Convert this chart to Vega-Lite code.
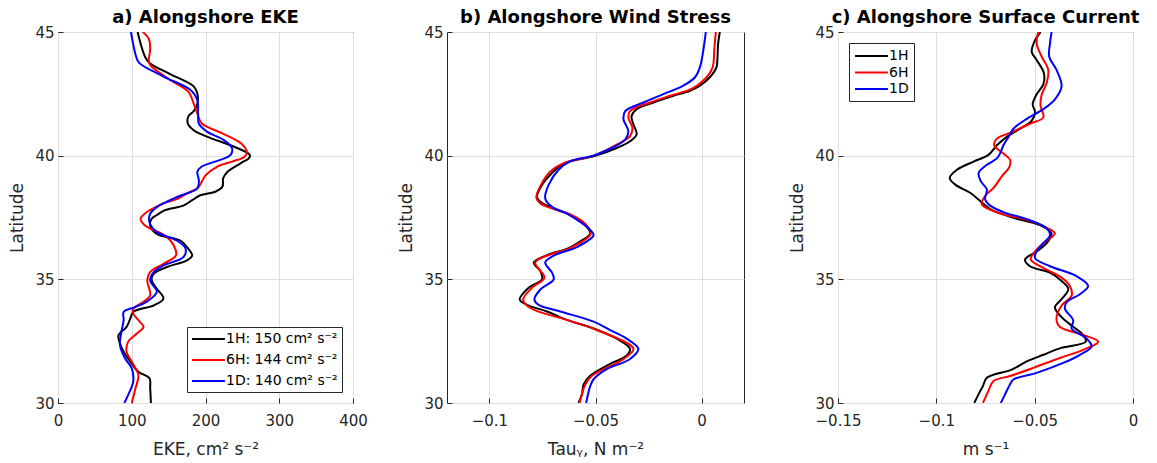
{
  "$schema": "https://vega.github.io/schema/vega-lite/v6.json",
  "padding": {"left": 8, "top": 8, "right": 5, "bottom": 5},
  "spacing": 94,
  "bounds": "flush",
  "datasets": {
    "a": [
      {"run":"1H","lat":45,"value":108},{"run":"1H","lat":44.53,"value":112},{"run":"1H","lat":44.0,"value":118},{"run":"1H","lat":43.75,"value":124},{"run":"1H","lat":43.3,"value":152},{"run":"1H","lat":42.8,"value":184},{"run":"1H","lat":42.5,"value":189},{"run":"1H","lat":42.1,"value":189},{"run":"1H","lat":41.8,"value":184},{"run":"1H","lat":41.6,"value":177},{"run":"1H","lat":41.3,"value":176},{"run":"1H","lat":41.03,"value":184},{"run":"1H","lat":40.77,"value":202},{"run":"1H","lat":40.36,"value":239},{"run":"1H","lat":40.03,"value":260},{"run":"1H","lat":39.9,"value":259},{"run":"1H","lat":39.7,"value":248},{"run":"1H","lat":39.35,"value":230},{"run":"1H","lat":39.09,"value":224},{"run":"1H","lat":38.75,"value":223},{"run":"1H","lat":38.55,"value":214},{"run":"1H","lat":38.4,"value":193},{"run":"1H","lat":38.2,"value":182},{"run":"1H","lat":37.98,"value":170},{"run":"1H","lat":37.8,"value":145},{"run":"1H","lat":37.6,"value":134},{"run":"1H","lat":37.45,"value":127},{"run":"1H","lat":37.18,"value":125},{"run":"1H","lat":36.84,"value":134},{"run":"1H","lat":36.57,"value":166},{"run":"1H","lat":36.3,"value":175},{"run":"1H","lat":35.97,"value":182},{"run":"1H","lat":35.77,"value":175},{"run":"1H","lat":35.5,"value":148},{"run":"1H","lat":35.23,"value":130},{"run":"1H","lat":34.96,"value":127},{"run":"1H","lat":34.62,"value":134},{"run":"1H","lat":34.22,"value":143},{"run":"1H","lat":33.95,"value":130},{"run":"1H","lat":33.68,"value":102},{"run":"1H","lat":33.41,"value":98},{"run":"1H","lat":33.08,"value":93},{"run":"1H","lat":32.74,"value":82},{"run":"1H","lat":32.41,"value":84},{"run":"1H","lat":32.07,"value":89},{"run":"1H","lat":31.67,"value":98},{"run":"1H","lat":31.26,"value":109},{"run":"1H","lat":31.0,"value":124},{"run":"1H","lat":30.59,"value":125},{"run":"1H","lat":30.0,"value":126},
      {"run":"6H","lat":45,"value":115},{"run":"6H","lat":44.73,"value":123},{"run":"6H","lat":44.3,"value":125},{"run":"6H","lat":43.86,"value":123},{"run":"6H","lat":43.66,"value":125},{"run":"6H","lat":43.1,"value":150},{"run":"6H","lat":42.58,"value":177},{"run":"6H","lat":42.1,"value":184},{"run":"6H","lat":41.7,"value":189},{"run":"6H","lat":41.3,"value":195},{"run":"6H","lat":40.9,"value":223},{"run":"6H","lat":40.5,"value":248},{"run":"6H","lat":40.16,"value":256},{"run":"6H","lat":39.96,"value":253},{"run":"6H","lat":39.76,"value":236},{"run":"6H","lat":39.56,"value":216},{"run":"6H","lat":39.2,"value":200},{"run":"6H","lat":38.95,"value":195},{"run":"6H","lat":38.68,"value":189},{"run":"6H","lat":38.48,"value":175},{"run":"6H","lat":38.25,"value":162},{"run":"6H","lat":38.07,"value":143},{"run":"6H","lat":37.85,"value":128},{"run":"6H","lat":37.71,"value":120},{"run":"6H","lat":37.45,"value":112},{"run":"6H","lat":37.18,"value":118},{"run":"6H","lat":36.77,"value":145},{"run":"6H","lat":36.37,"value":157},{"run":"6H","lat":35.97,"value":160},{"run":"6H","lat":35.63,"value":143},{"run":"6H","lat":35.3,"value":125},{"run":"6H","lat":34.96,"value":121},{"run":"6H","lat":34.35,"value":125},{"run":"6H","lat":34.09,"value":116},{"run":"6H","lat":33.82,"value":102},{"run":"6H","lat":33.62,"value":102},{"run":"6H","lat":33.28,"value":111},{"run":"6H","lat":33.08,"value":116},{"run":"6H","lat":32.81,"value":107},{"run":"6H","lat":32.47,"value":95},{"run":"6H","lat":32.07,"value":93},{"run":"6H","lat":31.67,"value":100},{"run":"6H","lat":31.13,"value":109},{"run":"6H","lat":30.59,"value":105},{"run":"6H","lat":30.0,"value":100},
      {"run":"1D","lat":45,"value":99},{"run":"1D","lat":44.5,"value":102},{"run":"1D","lat":44.0,"value":106},{"run":"1D","lat":43.75,"value":110},{"run":"1D","lat":43.2,"value":143},{"run":"1D","lat":42.65,"value":180},{"run":"1D","lat":42.24,"value":189},{"run":"1D","lat":41.7,"value":190},{"run":"1D","lat":41.3,"value":191},{"run":"1D","lat":40.97,"value":202},{"run":"1D","lat":40.63,"value":225},{"run":"1D","lat":40.3,"value":236},{"run":"1D","lat":40.03,"value":234},{"run":"1D","lat":39.83,"value":220},{"run":"1D","lat":39.56,"value":195},{"run":"1D","lat":39.35,"value":189},{"run":"1D","lat":39.0,"value":191},{"run":"1D","lat":38.68,"value":189},{"run":"1D","lat":38.35,"value":163},{"run":"1D","lat":38.1,"value":145},{"run":"1D","lat":37.92,"value":134},{"run":"1D","lat":37.65,"value":125},{"run":"1D","lat":37.31,"value":124},{"run":"1D","lat":36.91,"value":134},{"run":"1D","lat":36.57,"value":161},{"run":"1D","lat":36.24,"value":173},{"run":"1D","lat":35.9,"value":170},{"run":"1D","lat":35.56,"value":143},{"run":"1D","lat":35.3,"value":130},{"run":"1D","lat":34.96,"value":125},{"run":"1D","lat":34.49,"value":134},{"run":"1D","lat":34.09,"value":120},{"run":"1D","lat":33.88,"value":105},{"run":"1D","lat":33.68,"value":89},{"run":"1D","lat":33.35,"value":89},{"run":"1D","lat":32.88,"value":86},{"run":"1D","lat":32.34,"value":84},{"run":"1D","lat":31.8,"value":91},{"run":"1D","lat":31.4,"value":100},{"run":"1D","lat":30.86,"value":102},{"run":"1D","lat":30.32,"value":95},{"run":"1D","lat":30.0,"value":90}
    ],
    "b": [
      {"run":"1H","lat":45,"value":0.0086},{"run":"1H","lat":44.52,"value":0.0078},{"run":"1H","lat":43.98,"value":0.0075},{"run":"1H","lat":43.57,"value":0.007},{"run":"1H","lat":43.17,"value":0.0039},{"run":"1H","lat":42.83,"value":-0.0008},{"run":"1H","lat":42.62,"value":-0.0055},{"run":"1H","lat":42.42,"value":-0.0133},{"run":"1H","lat":42.15,"value":-0.0227},{"run":"1H","lat":41.88,"value":-0.0306},{"run":"1H","lat":41.6,"value":-0.033},{"run":"1H","lat":41.26,"value":-0.0321},{"run":"1H","lat":40.86,"value":-0.0306},{"run":"1H","lat":40.58,"value":-0.0337},{"run":"1H","lat":40.31,"value":-0.04},{"run":"1H","lat":40.0,"value":-0.0501},{"run":"1H","lat":39.77,"value":-0.062},{"run":"1H","lat":39.63,"value":-0.066},{"run":"1H","lat":39.3,"value":-0.0705},{"run":"1H","lat":38.82,"value":-0.0752},{"run":"1H","lat":38.34,"value":-0.0776},{"run":"1H","lat":38.14,"value":-0.076},{"run":"1H","lat":37.87,"value":-0.0697},{"run":"1H","lat":37.6,"value":-0.0619},{"run":"1H","lat":37.26,"value":-0.0556},{"run":"1H","lat":36.85,"value":-0.0525},{"run":"1H","lat":36.58,"value":-0.0564},{"run":"1H","lat":36.23,"value":-0.0635},{"run":"1H","lat":36.03,"value":-0.0713},{"run":"1H","lat":35.68,"value":-0.0791},{"run":"1H","lat":35.34,"value":-0.076},{"run":"1H","lat":35.0,"value":-0.0752},{"run":"1H","lat":34.66,"value":-0.0815},{"run":"1H","lat":34.18,"value":-0.0857},{"run":"1H","lat":33.97,"value":-0.0822},{"run":"1H","lat":33.7,"value":-0.0729},{"run":"1H","lat":33.36,"value":-0.0635},{"run":"1H","lat":33.01,"value":-0.0509},{"run":"1H","lat":32.6,"value":-0.04},{"run":"1H","lat":32.19,"value":-0.0337},{"run":"1H","lat":31.92,"value":-0.0353},{"run":"1H","lat":31.58,"value":-0.0431},{"run":"1H","lat":31.1,"value":-0.0525},{"run":"1H","lat":30.75,"value":-0.0556},{"run":"1H","lat":30.34,"value":-0.0564},{"run":"1H","lat":30.0,"value":-0.058},
      {"run":"6H","lat":45,"value":0.0067},{"run":"6H","lat":44.3,"value":0.006},{"run":"6H","lat":43.57,"value":0.0052},{"run":"6H","lat":43.1,"value":0.0016},{"run":"6H","lat":42.7,"value":-0.0047},{"run":"6H","lat":42.42,"value":-0.0149},{"run":"6H","lat":42.15,"value":-0.0243},{"run":"6H","lat":41.8,"value":-0.0337},{"run":"6H","lat":41.54,"value":-0.0345},{"run":"6H","lat":41.13,"value":-0.0326},{"run":"6H","lat":40.79,"value":-0.0337},{"run":"6H","lat":40.45,"value":-0.04},{"run":"6H","lat":40.0,"value":-0.051},{"run":"6H","lat":39.7,"value":-0.065},{"run":"6H","lat":39.36,"value":-0.0713},{"run":"6H","lat":38.82,"value":-0.0757},{"run":"6H","lat":38.3,"value":-0.0779},{"run":"6H","lat":38.07,"value":-0.076},{"run":"6H","lat":37.8,"value":-0.0682},{"run":"6H","lat":37.6,"value":-0.0611},{"run":"6H","lat":37.26,"value":-0.055},{"run":"6H","lat":36.85,"value":-0.0522},{"run":"6H","lat":36.23,"value":-0.0627},{"run":"6H","lat":36.03,"value":-0.0705},{"run":"6H","lat":35.68,"value":-0.0784},{"run":"6H","lat":35.07,"value":-0.0741},{"run":"6H","lat":34.66,"value":-0.0799},{"run":"6H","lat":34.18,"value":-0.0841},{"run":"6H","lat":33.84,"value":-0.0807},{"run":"6H","lat":33.36,"value":-0.0635},{"run":"6H","lat":32.95,"value":-0.0494},{"run":"6H","lat":32.19,"value":-0.0321},{"run":"6H","lat":31.78,"value":-0.0368},{"run":"6H","lat":31.1,"value":-0.0517},{"run":"6H","lat":30.75,"value":-0.0548},{"run":"6H","lat":30.0,"value":-0.0575},
      {"run":"1D","lat":45,"value":0.002},{"run":"1D","lat":44.25,"value":0.0008},{"run":"1D","lat":43.57,"value":-0.0008},{"run":"1D","lat":43.17,"value":-0.0031},{"run":"1D","lat":42.83,"value":-0.0086},{"run":"1D","lat":42.49,"value":-0.018},{"run":"1D","lat":42.15,"value":-0.0274},{"run":"1D","lat":41.8,"value":-0.036},{"run":"1D","lat":41.47,"value":-0.0368},{"run":"1D","lat":40.99,"value":-0.0345},{"run":"1D","lat":40.65,"value":-0.036},{"run":"1D","lat":40.31,"value":-0.0423},{"run":"1D","lat":40.0,"value":-0.051},{"run":"1D","lat":39.77,"value":-0.062},{"run":"1D","lat":39.43,"value":-0.0674},{"run":"1D","lat":38.82,"value":-0.0721},{"run":"1D","lat":38.27,"value":-0.0737},{"run":"1D","lat":37.93,"value":-0.0705},{"run":"1D","lat":37.66,"value":-0.0635},{"run":"1D","lat":37.32,"value":-0.0572},{"run":"1D","lat":37.0,"value":-0.0525},{"run":"1D","lat":36.78,"value":-0.0509},{"run":"1D","lat":36.3,"value":-0.0588},{"run":"1D","lat":35.96,"value":-0.0697},{"run":"1D","lat":35.68,"value":-0.0737},{"run":"1D","lat":35.27,"value":-0.0705},{"run":"1D","lat":35.0,"value":-0.0697},{"run":"1D","lat":34.59,"value":-0.076},{"run":"1D","lat":34.18,"value":-0.0788},{"run":"1D","lat":33.97,"value":-0.0768},{"run":"1D","lat":33.7,"value":-0.0666},{"run":"1D","lat":33.29,"value":-0.0509},{"run":"1D","lat":32.95,"value":-0.0431},{"run":"1D","lat":32.6,"value":-0.0353},{"run":"1D","lat":32.19,"value":-0.0298},{"run":"1D","lat":31.78,"value":-0.0337},{"run":"1D","lat":31.37,"value":-0.0447},{"run":"1D","lat":30.96,"value":-0.0509},{"run":"1D","lat":30.68,"value":-0.0525},{"run":"1D","lat":30.0,"value":-0.0544}
    ],
    "c": [
      {"run":"1H","lat":45,"value":-0.047},{"run":"1H","lat":44.67,"value":-0.0498},{"run":"1H","lat":44.2,"value":-0.0515},{"run":"1H","lat":43.87,"value":-0.049},{"run":"1H","lat":43.34,"value":-0.0453},{"run":"1H","lat":42.88,"value":-0.0456},{"run":"1H","lat":42.48,"value":-0.049},{"run":"1H","lat":42.08,"value":-0.051},{"run":"1H","lat":41.75,"value":-0.0498},{"run":"1H","lat":41.42,"value":-0.0515},{"run":"1H","lat":41.09,"value":-0.0574},{"run":"1H","lat":40.76,"value":-0.0642},{"run":"1H","lat":40.42,"value":-0.0692},{"run":"1H","lat":40.03,"value":-0.0735},{"run":"1H","lat":39.76,"value":-0.0811},{"run":"1H","lat":39.43,"value":-0.0895},{"run":"1H","lat":39.1,"value":-0.0932},{"run":"1H","lat":38.83,"value":-0.0904},{"run":"1H","lat":38.5,"value":-0.0828},{"run":"1H","lat":38.17,"value":-0.0777},{"run":"1H","lat":37.84,"value":-0.0726},{"run":"1H","lat":37.6,"value":-0.065},{"run":"1H","lat":37.45,"value":-0.0591},{"run":"1H","lat":37.19,"value":-0.0473},{"run":"1H","lat":36.86,"value":-0.0414},{"run":"1H","lat":36.46,"value":-0.0439},{"run":"1H","lat":36.13,"value":-0.049},{"run":"1H","lat":35.8,"value":-0.0549},{"run":"1H","lat":35.53,"value":-0.0524},{"run":"1H","lat":35.27,"value":-0.0422},{"run":"1H","lat":34.93,"value":-0.0363},{"run":"1H","lat":34.6,"value":-0.0329},{"run":"1H","lat":34.2,"value":-0.0363},{"run":"1H","lat":33.87,"value":-0.0397},{"run":"1H","lat":33.47,"value":-0.0363},{"run":"1H","lat":33.08,"value":-0.0304},{"run":"1H","lat":32.75,"value":-0.0253},{"run":"1H","lat":32.48,"value":-0.024},{"run":"1H","lat":32.21,"value":-0.0372},{"run":"1H","lat":31.95,"value":-0.0456},{"run":"1H","lat":31.68,"value":-0.054},{"run":"1H","lat":31.35,"value":-0.0617},{"run":"1H","lat":31.02,"value":-0.0743},{"run":"1H","lat":30.69,"value":-0.0763},{"run":"1H","lat":30.36,"value":-0.0785},{"run":"1H","lat":30.0,"value":-0.0807},
      {"run":"6H","lat":45,"value":-0.0481},{"run":"6H","lat":44.54,"value":-0.049},{"run":"6H","lat":44.0,"value":-0.0464},{"run":"6H","lat":43.47,"value":-0.0431},{"run":"6H","lat":42.94,"value":-0.0439},{"run":"6H","lat":42.48,"value":-0.0464},{"run":"6H","lat":42.02,"value":-0.047},{"run":"6H","lat":41.55,"value":-0.0456},{"run":"6H","lat":41.29,"value":-0.0524},{"run":"6H","lat":40.95,"value":-0.0617},{"run":"6H","lat":40.69,"value":-0.0692},{"run":"6H","lat":40.42,"value":-0.0706},{"run":"6H","lat":40.09,"value":-0.0659},{"run":"6H","lat":39.83,"value":-0.0625},{"run":"6H","lat":39.56,"value":-0.0628},{"run":"6H","lat":39.16,"value":-0.0667},{"run":"6H","lat":38.7,"value":-0.0709},{"run":"6H","lat":38.37,"value":-0.0752},{"run":"6H","lat":38.04,"value":-0.0769},{"run":"6H","lat":37.79,"value":-0.0718},{"run":"6H","lat":37.6,"value":-0.065},{"run":"6H","lat":37.45,"value":-0.0557},{"run":"6H","lat":37.12,"value":-0.0448},{"run":"6H","lat":36.86,"value":-0.0397},{"run":"6H","lat":36.46,"value":-0.0456},{"run":"6H","lat":36.13,"value":-0.0498},{"run":"6H","lat":35.8,"value":-0.052},{"run":"6H","lat":35.46,"value":-0.0456},{"run":"6H","lat":35.07,"value":-0.0363},{"run":"6H","lat":34.73,"value":-0.0321},{"run":"6H","lat":34.34,"value":-0.0312},{"run":"6H","lat":33.94,"value":-0.0363},{"run":"6H","lat":33.41,"value":-0.0389},{"run":"6H","lat":33.08,"value":-0.0372},{"run":"6H","lat":32.75,"value":-0.0253},{"run":"6H","lat":32.48,"value":-0.0177},{"run":"6H","lat":32.15,"value":-0.0253},{"run":"6H","lat":31.82,"value":-0.0372},{"run":"6H","lat":31.42,"value":-0.0507},{"run":"6H","lat":31.09,"value":-0.0625},{"run":"6H","lat":30.89,"value":-0.0709},{"run":"6H","lat":30.49,"value":-0.0735},{"run":"6H","lat":30.0,"value":-0.0763},
      {"run":"1D","lat":45,"value":-0.0414},{"run":"1D","lat":44.54,"value":-0.0422},{"run":"1D","lat":44.0,"value":-0.0426},{"run":"1D","lat":43.47,"value":-0.0389},{"run":"1D","lat":42.81,"value":-0.0363},{"run":"1D","lat":42.28,"value":-0.0397},{"run":"1D","lat":41.88,"value":-0.0456},{"run":"1D","lat":41.49,"value":-0.054},{"run":"1D","lat":41.09,"value":-0.0608},{"run":"1D","lat":40.76,"value":-0.0633},{"run":"1D","lat":40.42,"value":-0.0659},{"run":"1D","lat":40.09,"value":-0.0676},{"run":"1D","lat":39.89,"value":-0.0692},{"run":"1D","lat":39.63,"value":-0.0743},{"run":"1D","lat":39.3,"value":-0.0785},{"run":"1D","lat":38.97,"value":-0.0774},{"run":"1D","lat":38.63,"value":-0.0743},{"run":"1D","lat":38.24,"value":-0.0752},{"run":"1D","lat":37.98,"value":-0.0726},{"run":"1D","lat":37.72,"value":-0.0659},{"run":"1D","lat":37.39,"value":-0.0524},{"run":"1D","lat":37.06,"value":-0.0439},{"run":"1D","lat":36.79,"value":-0.0422},{"run":"1D","lat":36.46,"value":-0.0456},{"run":"1D","lat":36.13,"value":-0.049},{"run":"1D","lat":35.86,"value":-0.0498},{"run":"1D","lat":35.53,"value":-0.0422},{"run":"1D","lat":35.13,"value":-0.0287},{"run":"1D","lat":34.73,"value":-0.0228},{"run":"1D","lat":34.4,"value":-0.027},{"run":"1D","lat":34.07,"value":-0.0338},{"run":"1D","lat":33.81,"value":-0.0346},{"run":"1D","lat":33.34,"value":-0.0304},{"run":"1D","lat":33.01,"value":-0.0312},{"run":"1D","lat":32.61,"value":-0.0236},{"run":"1D","lat":32.28,"value":-0.0211},{"run":"1D","lat":31.95,"value":-0.027},{"run":"1D","lat":31.62,"value":-0.0355},{"run":"1D","lat":31.22,"value":-0.049},{"run":"1D","lat":30.95,"value":-0.0608},{"run":"1D","lat":30.76,"value":-0.0625},{"run":"1D","lat":30.36,"value":-0.065},{"run":"1D","lat":30.0,"value":-0.0672}
    ]
  },
  "hconcat": [
    {
      "width": 295, "height": 371,
      "title": "a) Alongshore EKE",
      "data": {"name": "a"},
      "mark": {"type": "line", "strokeWidth": 2, "interpolate": "catmull-rom", "clip": true},
      "encoding": {
        "x": {"field": "value", "type": "quantitative", "scale": {"domain": [0, 400], "nice": false}, "axis": {"values": [0, 100, 200, 300, 400], "format": "d", "title": "EKE, cm² s⁻²"}},
        "y": {"field": "lat", "type": "quantitative", "scale": {"domain": [30, 45], "nice": false, "zero": false}, "axis": {"values": [30, 35, 40, 45], "format": "d", "title": "Latitude"}},
        "color": {"field": "run", "type": "nominal", "scale": {"domain": ["1H", "6H", "1D"], "range": ["#000000", "#ff0000", "#0000ff"]},
          "legend": {"orient": "bottom-right", "offset": 11, "title": null, "rowPadding": 6, "padding": 4,
            "labelExpr": "datum.label == '1H' ? '1H: 150 cm² s⁻²' : datum.label == '6H' ? '6H: 144 cm² s⁻²' : '1D: 140 cm² s⁻²'"}},
        "order": {"field": "lat", "type": "quantitative"}
      }
    },
    {
      "width": 297, "height": 371,
      "title": "b) Alongshore Wind Stress",
      "data": {"name": "b"},
      "mark": {"type": "line", "strokeWidth": 2, "interpolate": "catmull-rom", "clip": true},
      "encoding": {
        "x": {"field": "value", "type": "quantitative", "scale": {"domain": [-0.12, 0.02], "nice": false, "zero": false}, "axis": {"values": [-0.1, -0.05, 0], "format": ".2~f", "title": "Tauᵧ, N m⁻²"}},
        "y": {"field": "lat", "type": "quantitative", "scale": {"domain": [30, 45], "nice": false, "zero": false}, "axis": {"values": [30, 35, 40, 45], "format": "d", "title": "Latitude"}},
        "color": {"field": "run", "type": "nominal", "scale": {"domain": ["1H", "6H", "1D"], "range": ["#000000", "#ff0000", "#0000ff"]}, "legend": null},
        "order": {"field": "lat", "type": "quantitative"}
      }
    },
    {
      "width": 295, "height": 371,
      "title": "c) Alongshore Surface Current",
      "data": {"name": "c"},
      "mark": {"type": "line", "strokeWidth": 2, "interpolate": "catmull-rom", "clip": true},
      "encoding": {
        "x": {"field": "value", "type": "quantitative", "scale": {"domain": [-0.15, 0], "nice": false, "zero": false}, "axis": {"values": [-0.15, -0.1, -0.05, 0], "format": ".2~f", "title": "m s⁻¹"}},
        "y": {"field": "lat", "type": "quantitative", "scale": {"domain": [30, 45], "nice": false, "zero": false}, "axis": {"values": [30, 35, 40, 45], "format": "d", "title": "Latitude"}},
        "color": {"field": "run", "type": "nominal", "scale": {"domain": ["1H", "6H", "1D"], "range": ["#000000", "#ff0000", "#0000ff"]},
          "legend": {"orient": "top-left", "offset": 11, "title": null, "rowPadding": 1.5, "padding": 5}},
        "order": {"field": "lat", "type": "quantitative"}
      }
    }
  ],
  "resolve": {"scale": {"color": "independent", "x": "independent", "y": "independent"}, "legend": {"color": "independent"}},
  "config": {
    "background": "white",
    "font": "DejaVu Sans",
    "view": {"stroke": "#262626", "strokeWidth": 1},
    "axis": {
      "grid": true, "gridColor": "#dedede", "gridWidth": 1, "domain": false,
      "ticks": true, "tickColor": "#262626", "tickSize": -5, "labelFlush": false,
      "labelFont": "DejaVu Sans", "labelFontSize": 15, "labelColor": "#262626",
      "titleFont": "DejaVu Sans", "titleFontSize": 17, "titleFontWeight": "normal", "titleColor": "#262626"
    },
    "axisX": {"labelPadding": 15, "titlePadding": 13},
    "axisY": {"labelPadding": 9, "titlePadding": 8},
    "title": {"font": "DejaVu Sans", "fontSize": 18, "fontWeight": "bold", "color": "#000000", "anchor": "middle", "offset": -2, "baseline": "alphabetic"},
    "legend": {
      "symbolType": "M-1,0H3.7", "symbolSize": 196, "symbolStrokeWidth": 2,
      "strokeColor": "#262626", "fillColor": "#ffffff",
      "labelFont": "DejaVu Sans", "labelFontSize": 14, "labelColor": "#000000", "labelOffset": 19
    }
  }
}
